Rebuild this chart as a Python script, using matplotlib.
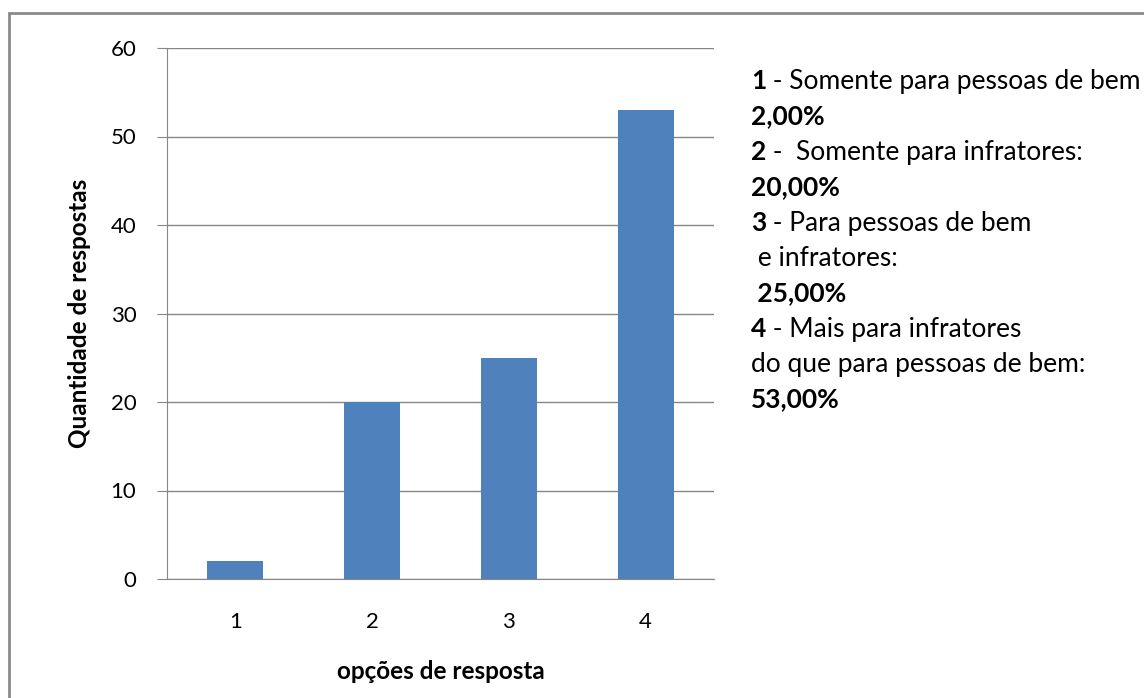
import matplotlib
matplotlib.use("Agg")
import matplotlib.pyplot as plt
from matplotlib.patches import Rectangle

categories = ["1", "2", "3", "4"]
values = [2, 20, 25, 53]
yticks = [0, 10, 20, 30, 40, 50, 60]
legend_lines = [
    ("1", " - Somente para pessoas de bem"),
    ("2,00%", ""),
    ("2", " -  Somente para infratores:"),
    ("20,00%", ""),
    ("3", " - Para pessoas de bem"),
    ("", " e infratores:"),
    (" 25,00%", ""),
    ("4", " - Mais para infratores"),
    ("", "do que para pessoas de bem:"),
    ("53,00%", ""),
]

plt.rcParams['font.family'] = ['Lato', 'DejaVu Sans']

W, H = 1144, 698
fig = plt.figure(figsize=(W / 100, H / 100), dpi=100)
ax = fig.add_axes([167 / W, 1 - 579 / H, (714 - 167) / W, (579 - 48) / H])

TS = 16
LAB = 17.5
LS = 19
x = list(range(1, len(categories) + 1))
ax.bar(x, values, width=0.41, color="#4F81BD", zorder=3)
ax.set_xlim(0.5, 4.5)
ax.set_ylim(0, 60)
ax.set_xticks(x)
ax.set_xticklabels(categories)
ax.set_yticks(yticks)
ax.grid(axis='y', color='#868686', linewidth=1, zorder=0)
for s in ['top', 'right']:
    ax.spines[s].set_visible(False)
ax.spines['left'].set_color('#868686')
ax.spines['bottom'].set_color('#868686')
ax.tick_params(axis='y', length=7, color='#868686', labelsize=TS, pad=15)
ax.tick_params(axis='x', length=0, labelsize=TS, pad=24)
ax.set_ylabel("Quantidade de respostas", fontsize=LAB, fontweight='bold', labelpad=14)
ax.set_xlabel("opções de resposta", fontsize=LAB, fontweight='bold', labelpad=20)

# outer border
fig.patches.append(Rectangle((9 / W, -0.05), 1.2, 1 - 13 / H + 0.05,
                             transform=fig.transFigure, fill=False,
                             edgecolor='#8a8a8a', linewidth=2))

y0 = 89
dy = 35.4
x0 = 751 / W
renderer = fig.canvas.get_renderer()
for i, (b, n) in enumerate(legend_lines):
    yy = 1 - (y0 + i * dy) / H
    xs = x0
    if b:
        t = fig.text(x0, yy, b, fontsize=LS, fontweight='bold', va='baseline', ha='left')
        xs = fig.transFigure.inverted().transform((t.get_window_extent(renderer).x1, 0))[0]
    if n:
        fig.text(xs, yy, n, fontsize=LS, va='baseline', ha='left')

fig.savefig("out.png", dpi=100)
